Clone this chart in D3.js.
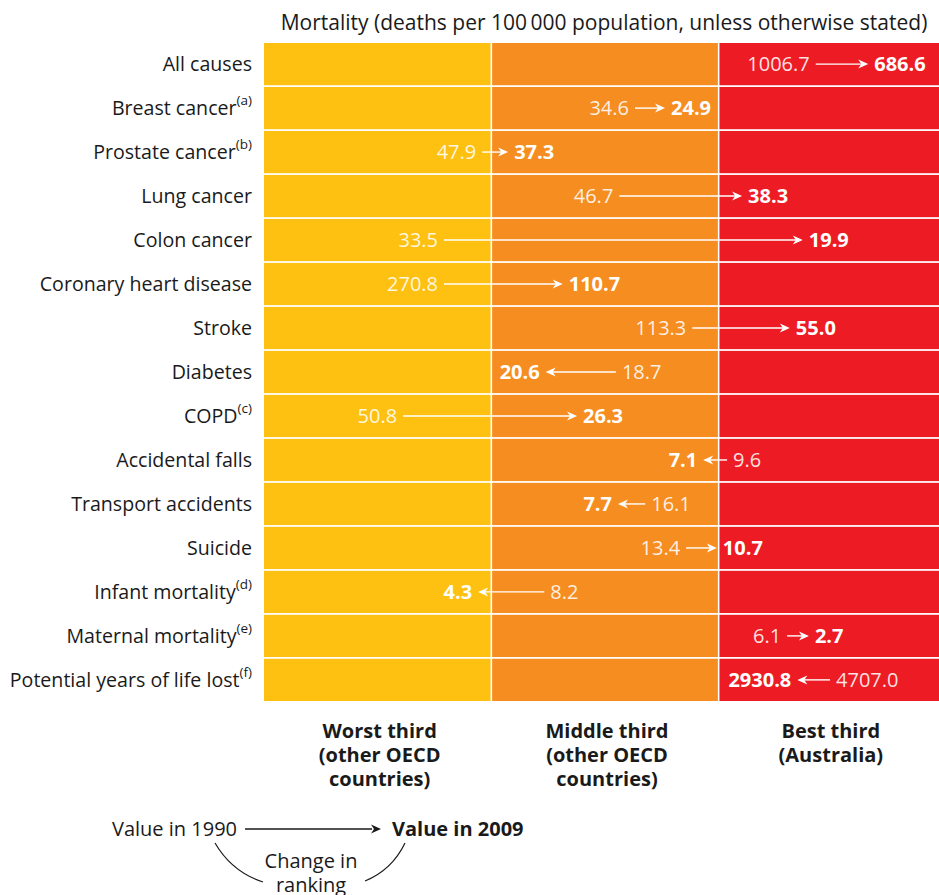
<!DOCTYPE html>
<html><head><meta charset="utf-8">
<script src="https://cdn.jsdelivr.net/npm/d3@7"></script>
<style>body{margin:0;background:#fff;} text{font-family:"Open Sans",sans-serif;}</style>
</head><body><svg id="c" width="939" height="895"></svg>
<script>
const categories = ["All causes","Breast cancer","Prostate cancer","Lung cancer","Colon cancer","Coronary heart disease","Stroke","Diabetes","COPD","Accidental falls","Transport accidents","Suicide","Infant mortality","Maternal mortality","Potential years of life lost"];
const notes = ["","(a)","(b)","","","","","","(c)","","","","(d)","(e)","(f)"];
const value1990 = ["1006.7","34.6","47.9","46.7","33.5","270.8","113.3","18.7","50.8","9.6","16.1","13.4","8.2","6.1","4707.0"];
const value2009 = ["686.6","24.9","37.3","38.3","19.9","110.7","55.0","20.6","26.3","7.1","7.7","10.7","4.3","2.7","2930.8"];
// ranking position (percentile across OECD, 0 = worst, 100 = best)
const rank1990 = [80.9,54.4,32.0,52.1,26.4,26.4,62.8,51.6,20.4,67.9,55.9,61.9,41.1,76.7,83.0];
const rank2009 = [88.6,58.8,35.8,70.1,79.0,43.8,77.1,41.3,45.9,64.4,51.9,66.4,31.4,79.9,78.2];
const thirds = [
  {name:["Worst third","(other OECD","countries)"], from:0, to:100/3, color:"#FEC111"},
  {name:["Middle third","(other OECD","countries)"], from:100/3, to:200/3, color:"#F68D21"},
  {name:["Best third","(Australia)"], from:200/3, to:100, color:"#ED1C24"}
];
const title = "Mortality (deaths per 100\u2009000 population, unless otherwise stated)";

const svg = d3.select("#c");
const x = d3.scaleLinear().domain([0,100]).range([264,946]);
const y = d3.scaleBand().domain(categories).range([43,701]).paddingInner(0.04);

// cells
categories.forEach(c=>{
  thirds.forEach(t=>{
    svg.append("rect").attr("x",x(t.from)+(t.from>0?0.8:0)).attr("y",y(c))
      .attr("width",x(t.to)-x(t.from)-(t.from>0?0.8:0)-0.8).attr("height",y.bandwidth()).attr("fill",t.color);
  });
});

svg.append("text").attr("x",604).attr("y",30).attr("text-anchor","middle")
  .attr("font-size",21).attr("fill","#1a1a1a").text(title);

// row labels
categories.forEach((c,i)=>{
  const t = svg.append("text").attr("x",252).attr("y",y(c)+y.bandwidth()/2).attr("dy","0.35em")
    .attr("text-anchor","end").attr("font-size",19.6).attr("fill","#1a1a1a");
  t.append("tspan").text(c);
  if(notes[i]) t.append("tspan").attr("font-size",13.5).attr("dy","-0.75em").text(notes[i]);
});

// arrows
function arrowHead(g,tipX,cy,dir,color,len,half){
  g.append("path").attr("d",`M${tipX},${cy} L${tipX-dir*len},${cy-half} L${tipX-dir*len*0.7},${cy} L${tipX-dir*len},${cy+half} Z`).attr("fill",color);
}
categories.forEach((c,i)=>{
  const cy = y(c)+y.bandwidth()/2;
  const x0 = x(rank1990[i]), x1 = x(rank2009[i]);
  const dir = x1>x0?1:-1;
  const g = svg.append("g");
  g.append("line").attr("x1",x0).attr("x2",x1-dir*4).attr("y1",cy).attr("y2",cy)
    .attr("stroke","#fff").attr("stroke-width",1.4);
  arrowHead(g,x1,cy,dir,"#fff",10,4.5);
  g.append("text").attr("x",x0-dir*6).attr("y",cy).attr("dy","0.36em")
    .attr("text-anchor",dir>0?"end":"start").attr("font-size",20).attr("font-weight",400)
    .attr("fill","#fff").attr("fill-opacity",0.88).text(value1990[i]);
  g.append("text").attr("x",x1+dir*6).attr("y",cy).attr("dy","0.36em")
    .attr("text-anchor",dir>0?"start":"end").attr("font-size",20).attr("font-weight",700)
    .attr("fill","#fff").text(value2009[i]);
});

// column labels
thirds.forEach(t=>{
  const cx = (x(t.from)+Math.min(x(t.to),939))/2 + 2;
  t.name.forEach((s,j)=>{
    svg.append("text").attr("x",cx).attr("y",738+j*24).attr("text-anchor","middle")
      .attr("font-size",20).attr("font-weight",700).attr("fill","#1a1a1a").text(s);
  });
});

// legend
const lg = svg.append("g");
lg.append("text").attr("x",237).attr("y",836).attr("text-anchor","end").attr("font-size",20).attr("fill","#1a1a1a").text("Value in 1990");
lg.append("line").attr("x1",245).attr("x2",372).attr("y1",829).attr("y2",829).attr("stroke","#1a1a1a").attr("stroke-width",1.4);
arrowHead(lg,381,829,1,"#1a1a1a",10,4.5);
lg.append("text").attr("x",392).attr("y",836).attr("font-size",20).attr("font-weight",700).attr("fill","#1a1a1a").text("Value in 2009");
lg.append("path").attr("d","M215,843 Q232,872 263,882").attr("fill","none").attr("stroke","#1a1a1a").attr("stroke-width",1.2);
lg.append("path").attr("d","M405,843 Q392,870 365,881").attr("fill","none").attr("stroke","#1a1a1a").attr("stroke-width",1.2);
lg.append("text").attr("x",311).attr("y",868).attr("text-anchor","middle").attr("font-size",20).attr("fill","#1a1a1a").text("Change in");
lg.append("text").attr("x",311).attr("y",892).attr("text-anchor","middle").attr("font-size",20).attr("fill","#1a1a1a").text("ranking");
</script></body></html>
